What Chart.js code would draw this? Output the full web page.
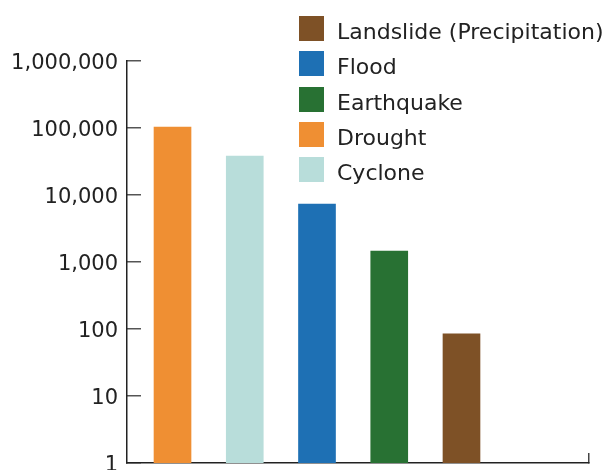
<!DOCTYPE html>
<html>
<head>
<meta charset="utf-8">
<script src="https://cdn.jsdelivr.net/npm/chart.js@4"></script>
<style>
  html, body { margin: 0; padding: 0; background: #fff; }
  #wrap { width: 609px; height: 470px; }
</style>
</head>
<body>
<div id="wrap"><canvas id="hazardChart"></canvas></div>
<script>
const categories = ['Drought', 'Cyclone', 'Flood', 'Earthquake', 'Landslide (Precipitation)'];
const values = [103500, 38000, 7300, 1460, 85];
const barColors = ['#EF8F33', '#B8DDDA', '#1E70B4', '#287133', '#7E5126'];
const legendOrder = ['Landslide (Precipitation)', 'Flood', 'Earthquake', 'Drought', 'Cyclone'];
const tickValues = [1, 10, 100, 1000, 10000, 100000, 1000000];
const tickLabels = ['1', '10', '100', '1,000', '10,000', '100,000', '1,000,000'];

// legend sits over the top right of the plot, so draw it ourselves
const sideLegend = {
    id: 'sideLegend',
    afterDraw(chart) {
        const ctx = chart.ctx;
        ctx.save();
        ctx.font = '22px "DejaVu Sans"';
        ctx.textAlign = 'left';
        ctx.textBaseline = 'alphabetic';
        legendOrder.forEach((name, i) => {
            const top = Math.round(16 + i * 35.3);
            ctx.fillStyle = barColors[categories.indexOf(name)];
            ctx.fillRect(299, top, 25, 25);
            ctx.fillStyle = '#222';
            ctx.fillText(name, 337, top + 22.5);
        });
        ctx.restore();
    }
};

new Chart(document.getElementById('hazardChart'), {
    type: 'bar',
    data: {
        datasets: [{
            data: categories.map((c, i) => ({ x: i + 1, y: values[i] })),
            backgroundColor: barColors,
            borderWidth: 0,
            barThickness: 37
        }]
    },
    plugins: [sideLegend],
    options: {
        responsive: true,
        maintainAspectRatio: false,
        animation: false,
        layout: { padding: { top: 61, right: 20, bottom: 7, left: 0 } },
        plugins: {
            legend: { display: false },
            tooltip: { enabled: false }
        },
        scales: {
            x: {
                type: 'linear',
                min: 0.37,
                max: 6.765,
                offset: false,
                afterBuildTicks: scale => { scale.ticks = [{ value: scale.max }]; },
                afterFit: scale => {
                    scale.height = 0;
                    scale.paddingLeft = 0;
                    scale.paddingRight = 0;
                },
                ticks: { display: false },
                grid: { offset: false, drawOnChartArea: false, tickLength: -10, color: '#444', lineWidth: 1.5 },
                border: { color: '#222', width: 1.5 }
            },
            y: {
                type: 'logarithmic',
                min: 1,
                max: 1000000,
                afterBuildTicks: scale => { scale.ticks = tickValues.map(v => ({ value: v })); },
                afterFit: scale => {
                    scale.width = 127;
                    scale.paddingTop = 0;
                    scale.paddingBottom = 0;
                },
                ticks: {
                    autoSkip: false,
                    callback: (value, index) => tickLabels[index],
                    padding: 23,
                    labelOffset: 3,
                    color: '#222',
                    font: { family: 'DejaVu Sans', size: 21 }
                },
                grid: { drawOnChartArea: false, tickLength: -14, color: '#555', lineWidth: 1.5 },
                border: { color: '#222', width: 1.5 }
            }
        }
    }
});
</script>
</body>
</html>
